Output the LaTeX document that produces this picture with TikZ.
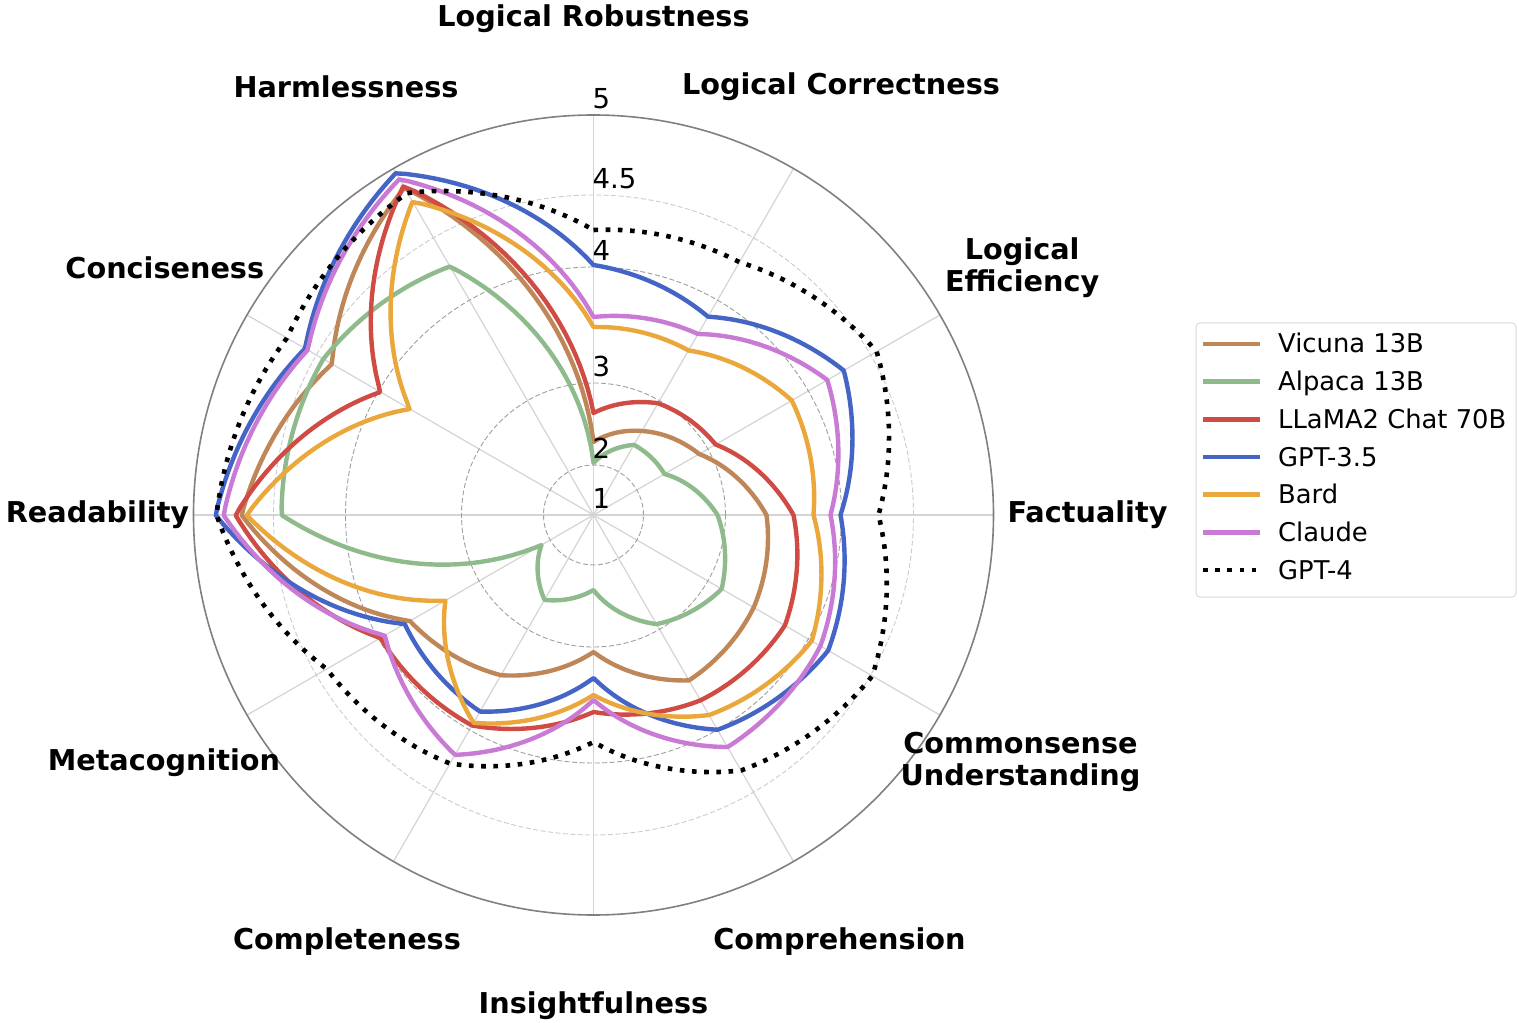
\documentclass[tikz,border=0pt]{standalone}
\usepackage{fontspec}
\setmainfont{DejaVu Sans}
\usepackage{tikz}
\usetikzlibrary{positioning}

\definecolor{vicuna}{HTML}{BF8758}
\definecolor{alpaca}{HTML}{8FBA8C}
\definecolor{llama}{HTML}{D04B43}
\definecolor{gptthree}{HTML}{4565C6}
\definecolor{bard}{HTML}{EAA73C}
\definecolor{claude}{HTML}{C97AD4}
\definecolor{gridgray}{HTML}{D4D4D4}

% one closed radar curve, radii (pt) from Logical Robustness clockwise
\newcommand{\radar}[2]{%
  \def\rv{{#2,#2}}%
  \draw[#1] plot[domain=0:12, samples=289, variable=\t]
    ({90-30*\t}:{\rv[int(\t)]+(\t-int(\t))*(\rv[int(\t)+1]-\rv[int(\t)])}) -- cycle;
}

\tikzset{
  series/.style={line width=4.4pt, line join=round},
  vicunaline/.style={series, draw=vicuna},
  alpacaline/.style={series, draw=alpaca},
  llamaline/.style={series, draw=llama},
  gptthreeline/.style={series, draw=gptthree},
  bardline/.style={series, draw=bard},
  claudeline/.style={series, draw=claude},
  gptfourline/.style={line width=4.6pt, draw=black, dash pattern=on 4.6pt off 7.6pt},
  ring/.style={draw=gray!75, line width=0.9pt, dash pattern=on 5pt off 2.5pt},
  spoke/.style={draw=gridgray, line width=1.2pt},
  axlabel/.style={font=\fontsize{28.7}{32}\selectfont\bfseries, align=center, inner sep=0pt},
  ticklabel/.style={font=\fontsize{27.5}{32}\selectfont, inner sep=0pt, anchor=south west},
  legtext/.style={font=\fontsize{25.8}{30}\selectfont, inner sep=0pt, anchor=base west},
}

\begin{document}
\begin{tikzpicture}[x=1pt, y=1pt]
\useasboundingbox (-593.5,-508) rectangle (925.5,515);
\fill[white] (-593.5,-508) rectangle (925.5,515);

\foreach \a in {0,30,...,330}
  \draw[spoke] (0,0) -- (\a:400);
\foreach \r in {50,132,248}
  \draw[ring] (0,0) circle (\r);
\draw[ring, draw=gray!40] (0,0) circle (320);
\draw[gray, line width=1.6pt] (0,0) circle (400);

\radar{vicunaline}{73,97,122,173,185,191,137,185,212,352,302,378}
\radar{alpacaline}{52,81,82,124,148,126,75,98,60,312,312,287}
\radar{llamaline}{102,129,141,200,221,214,197,243,246,358,246,380}
\radar{gptthreeline}{250,229,289,247,271,248,163,227,218,378,333,395}
\radar{bardline}{188,190,229,220,252,231,180,240,171,347,212,362}
\radar{claudeline}{198,209,270,237,262,268,185,277,241,370,330,388}
\radar{gptfourline}{285,292,327,285,322,295,227,287,308,377,354,372}

\foreach \v/\r/\n in {1/0/one, 2/50/two, 3/132/three, 4/248/four, 4.5/320/fourhalf, 5/400/five}
  \node[ticklabel] (tick\n) at (-1,\r+6) {\v};

\node[axlabel] (robustness) at (90:496) {Logical Robustness};
\node[axlabel] (correctness) at (60:495) {Logical Correctness};
\node[axlabel] (efficiency) at (30:495) {Logical\\Efficiency};
\node[axlabel] (factuality) at (0:494) {Factuality};
\node[axlabel] (commonsense) at (-30:493) {Commonsense\\Understanding};
\node[axlabel] (comprehension) at (-60:492) {Comprehension};
\node[axlabel] (insight) at (-90:491) {Insightfulness};
\node[axlabel] (completeness) at (-120:493) {Completeness};
\node[axlabel] (metacognition) at (-150:496) {Metacognition};
\node[axlabel] (readability) at (180:496) {Readability};
\node[axlabel] (conciseness) at (150:495) {Conciseness};
\node[axlabel] (harmlessness) at (120:495) {Harmlessness};

\draw[gray!30, line width=1pt, rounded corners=4pt, fill=white] (602.5,192) rectangle (922.5,-82);
\foreach \lbl/\sty [count=\k] in {Vicuna 13B/vicunaline, Alpaca 13B/alpacaline,
    LLaMA2 Chat 70B/llamaline, GPT-3.5/gptthreeline, Bard/bardline,
    Claude/claudeline, GPT-4/gptfourline}{
  \coordinate (key\k) at (609.5,{171-37.67*(\k-1)});
  \draw[\sty] (key\k) -- ++(57,0);
  \node[legtext] (entry\k) at ([xshift=75pt, yshift=-9pt]key\k) {\lbl};
}
\end{tikzpicture}
\end{document}
